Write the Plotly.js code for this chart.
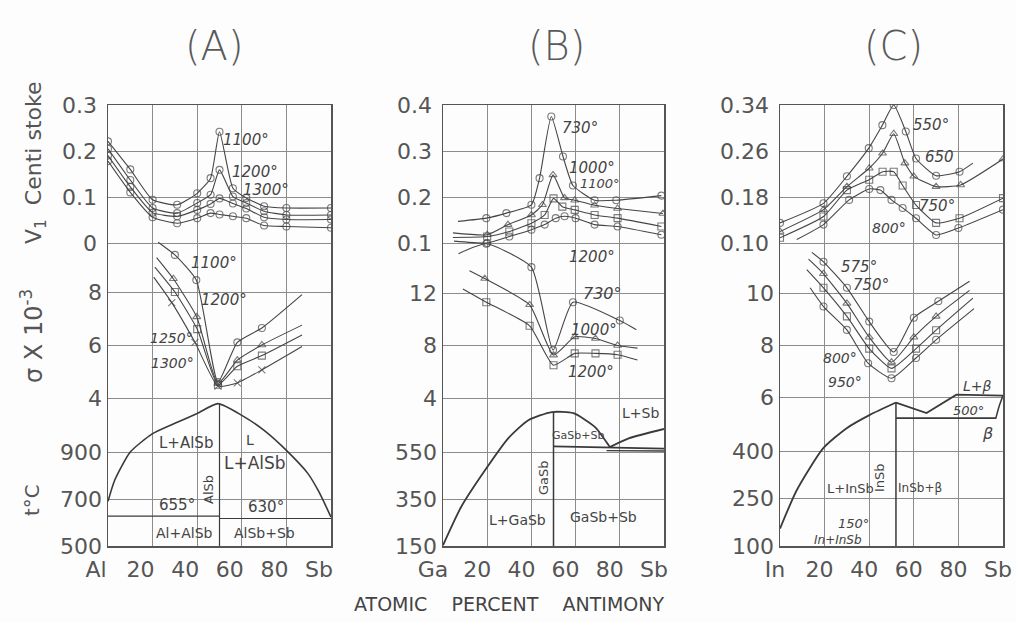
<!DOCTYPE html>
<html><head><meta charset="utf-8">
<script src="https://cdn.plot.ly/plotly-3.0.1.min.js"></script>
<style>html,body{margin:0;padding:0;background:#fdfdfd}#chart{width:1016px;height:622px}</style>
</head><body><div id="chart"></div>
<script>
// ================= DATA =================
const compTicks = [0, 20, 40, 60, 80, 100];
const A_xLabels = ['Al', '20', '40', '60', '80', 'Sb'];
const B_xLabels = ['Ga', '20', '40', '60', '80', 'Sb'];
const C_xLabels = ['In', '20', '40', '60', '80', 'Sb'];

// y tick values / labels
const A_viscTicks = [0.3, 0.2, 0.1, 0];      const A_viscLabels = ['0.3', '0.2', '0.1', '0'];
const A_sigTicks  = [8, 6, 4];               const A_sigLabels  = ['8', '6', '4'];
const A_tempTicks = [900, 700, 500];         const A_tempLabels = ['900', '700', '500'];
const B_viscTicks = [0.4, 0.3, 0.2, 0.1];    const B_viscLabels = ['0.4', '0.3', '0.2', '0.1'];
const B_sigTicks  = [12, 8, 4];              const B_sigLabels  = ['12', '8', '4'];
const B_tempTicks = [550, 350, 150];         const B_tempLabels = ['550', '350', '150'];
const C_viscTicks = [0.34, 0.26, 0.18, 0.10];const C_viscLabels = ['0.34', '0.26', '0.18', '0.10'];
const C_sigTicks  = [10, 8, 6];              const C_sigLabels  = ['10', '8', '6'];
const C_tempTicks = [400, 250, 100];         const C_tempLabels = ['400', '250', '100'];

// ---- (A) Al-Sb : kinematic viscosity (centistoke) ----
const A_visc_x    = [0, 10, 20, 31, 40, 46, 50, 56, 62, 70, 80, 100];
const A_visc_1100 = [0.221, 0.160, 0.094, 0.083, 0.108, 0.141, 0.242, 0.119, 0.098, 0.080, 0.076, 0.076];
const A_visc_1200 = [0.205, 0.137, 0.076, 0.065, 0.087, 0.105, 0.159, 0.101, 0.087, 0.069, 0.061, 0.061];
const A_visc_1300 = [0.190, 0.122, 0.066, 0.058, 0.072, 0.085, 0.097, 0.086, 0.075, 0.056, 0.051, 0.051];
const A_visc_low  = [0.178, 0.110, 0.056, 0.043, 0.054, 0.065, 0.062, 0.058, 0.054, 0.038, 0.036, 0.033];

// ---- (A) sigma x 10^-3 ----
const A_sig_1100_x = [22.5, 30, 39.6, 49.3, 58, 69, 87];  const A_sig_1100 = [9.88, 9.4, 8.45, 4.6, 6.1, 6.64, 7.9];
const A_sig_1200_x = [21.8, 29.3, 39.8, 49.3, 58, 69, 87];const A_sig_1200 = [9.3, 8.5, 7.06, 4.55, 5.43, 6.0, 6.75];
const A_sig_1250_x = [21, 30, 40, 49.3, 58, 69, 87];      const A_sig_1250 = [8.94, 8.0, 6.6, 4.5, 5.2, 5.6, 6.38];
const A_sig_1300_x = [20.5, 28.6, 39, 49.3, 58, 69, 87];  const A_sig_1300 = [8.56, 7.6, 6.1, 4.45, 4.57, 5.06, 5.94];

// ---- (A) phase diagram (t °C) ----
const A_liq_x = [0, 3, 10, 20, 30, 40, 49.3, 60, 70, 80, 89.6, 94.6, 100];
const A_liq_T = [690, 780, 900, 978, 1022, 1064, 1106, 1056, 992, 907, 809, 730, 623];
const A_cmp_x = [50, 50];       const A_cmp_T = [1106, 500];
const A_eutL_x = [0, 50];       const A_eutL_T = [627, 627];
const A_eutR_x = [50, 100];     const A_eutR_T = [617, 617];

// ---- (B) Ga-Sb : viscosity ----
const B_visc_730_x  = [6.8, 19.6, 28.7, 40, 43.7, 49, 54.3, 58.8, 68.6, 78.4, 98.8];
const B_visc_730    = [0.147, 0.154, 0.165, 0.183, 0.241, 0.375, 0.288, 0.225, 0.193, 0.193, 0.203];
const B_visc_1000_x = [4.5, 20, 29.4, 40, 45, 49.8, 55, 59.6, 68.6, 79, 99.5];
const B_visc_1000   = [0.122, 0.118, 0.140, 0.161, 0.183, 0.248, 0.198, 0.193, 0.182, 0.175, 0.164];
const B_visc_1100_x = [4.5, 20, 30, 40, 46, 50, 54, 59.6, 68.6, 79, 98.8];
const B_visc_1100   = [0.112, 0.114, 0.125, 0.143, 0.161, 0.197, 0.179, 0.172, 0.161, 0.154, 0.136];
const B_visc_1200_x = [5, 20, 30, 40, 46, 51, 55, 60, 68.6, 79, 98.8];
const B_visc_1200   = [0.104, 0.100, 0.114, 0.129, 0.140, 0.154, 0.158, 0.154, 0.140, 0.136, 0.118];

// ---- (B) sigma ----
const B_sig_730_x  = [7, 19.6, 40, 49.8, 58.8, 80, 87.5]; const B_sig_730  = [15.0, 15.75, 13.97, 7.65, 11.3, 9.9, 9.2];
const B_sig_1000_x = [12, 18.9, 39.2, 50, 59.6, 69, 79, 88]; const B_sig_1000 = [13.7, 13.1, 11.1, 7.27, 8.66, 8.53, 8.0, 7.8];
const B_sig_1200_x = [9, 19.6, 39.2, 50, 59.6, 69, 79, 88];  const B_sig_1200 = [12.3, 11.3, 9.5, 6.5, 7.4, 7.4, 7.3, 6.9];

// ---- (B) phase diagram ----
const B_liq_x  = [0, 8.2, 19, 29.5, 38.6, 49.2, 59, 68.8, 75.5];
const B_liq_T  = [153, 316, 472, 608, 685, 720, 715, 656, 571];
const B_liq2_x = [75.5, 84, 100];        const B_liq2_T = [571, 608, 648];
const B_cmp_x  = [50, 50];               const B_cmp_T  = [720, 150];
const B_eut_x  = [50, 100];              const B_eut_T  = [574, 564];
const B_eut2_x = [74, 100];              const B_eut2_T = [556, 554];

// ---- (C) In-Sb : viscosity ----
const C_visc_550_x = [0, 19.5, 30, 39.8, 45.9, 51, 56.4, 61, 70, 80.5, 86.5];
const C_visc_550   = [0.135, 0.169, 0.216, 0.265, 0.305, 0.340, 0.294, 0.247, 0.217, 0.224, 0.239];
const C_visc_650_x = [0, 19.5, 30, 40, 46, 51, 56, 60, 70, 81, 100];
const C_visc_650   = [0.120, 0.158, 0.198, 0.230, 0.256, 0.290, 0.239, 0.216, 0.198, 0.201, 0.246];
const C_visc_750_x = [0, 19.5, 30, 40, 46, 51, 55, 61, 70, 80.5, 100];
const C_visc_750   = [0.109, 0.146, 0.192, 0.210, 0.224, 0.224, 0.200, 0.166, 0.135, 0.143, 0.178];
const C_visc_800_x = [7.5, 19.5, 31, 40, 45, 50, 55, 61, 70, 80, 100];
const C_visc_800   = [0.106, 0.132, 0.175, 0.194, 0.192, 0.175, 0.161, 0.143, 0.114, 0.126, 0.158];

// ---- (C) sigma ----
const C_sig_575_x = [14.3, 19.5, 30, 40, 51, 60, 71, 85];   const C_sig_575 = [11.56, 11.2, 10.2, 8.9, 7.73, 9.05, 9.68, 10.45];
const C_sig_750_x = [12.8, 19.5, 30, 40, 50, 60, 70, 85];   const C_sig_750 = [11.3, 10.74, 9.6, 8.3, 7.34, 8.3, 9.1, 10.1];
const C_sig_800_x = [12, 19.5, 30, 40, 50, 61, 70, 86.5];   const C_sig_800 = [10.9, 10.2, 9.1, 7.86, 7.1, 7.86, 8.57, 9.8];
const C_sig_950_x = [13.5, 19.5, 30, 39.5, 50, 61, 70, 87]; const C_sig_950 = [10.2, 9.48, 8.58, 7.3, 6.72, 7.5, 8.2, 9.4];

// ---- (C) phase diagram ----
const C_liq_x  = [0, 7.5, 19.4, 29.9, 40.3, 52];     const C_liq_T  = [155, 276, 409, 472, 514, 553];
const C_liq2_x = [52, 65.7, 79.1, 100];              const C_liq2_T = [553, 520, 578, 575];
const C_cmp_x  = [52, 52];                           const C_cmp_T  = [553, 100];
const C_eut_x  = [52, 97];                           const C_eut_T  = [504, 504];
const C_beta_x = [100, 98.2, 96.8];                  const C_beta_T = [575, 540, 504];

// ================= BUILD =================
const W = 1016, H = 622, TOP = 105, BOT = 546;
const INK = '#454545', GRID = '#8c8c8c', TXT = '#555';
const FONT = 'DejaVu Sans, Liberation Sans, sans-serif';

function rangeFrom(v1, p1, v2, p2) {            // two (value, pixel-row) references
  const s = (v1 - v2) / (p2 - p1);
  return [v1 - s * (BOT - p1), v1 + s * (p1 - TOP)];
}
function sizesFor(n, noStart, noEnd) {
  return Array.from({length: n}, (_, i) => (noStart && i === 0) || (noEnd && i === n - 1) ? 0 : 7);
}
const traces = [];
function curve(x, y, xa, ya, symbol, noStart, noEnd, shape) {
  traces.push({
    x: x, y: y, xaxis: xa, yaxis: ya, type: 'scatter', mode: 'lines+markers',
    line: {color: INK, width: 1.1, shape: shape || 'spline', smoothing: 0.5},
    marker: {symbol: symbol, size: sizesFor(x.length, noStart, noEnd), color: INK, line: {width: 1.1, color: INK}},
    hoverinfo: 'skip', showlegend: false
  });
}
function phase(x, y, xa, ya, width, shape) {
  traces.push({x: x, y: y, xaxis: xa, yaxis: ya, type: 'scatter', mode: 'lines',
    line: {color: '#3a3a3a', width: width || 1.8, shape: shape || 'spline', smoothing: 0.6},
    hoverinfo: 'skip', showlegend: false});
}

// A
curve(A_visc_x, A_visc_1100, 'x', 'y', 'circle-open');
curve(A_visc_x, A_visc_1200, 'x', 'y', 'circle-open');
curve(A_visc_x, A_visc_1300, 'x', 'y', 'circle-open');
curve(A_visc_x, A_visc_low,  'x', 'y', 'circle-open');
curve(A_sig_1100_x, A_sig_1100, 'x', 'y2', 'circle-open', true, true);
curve(A_sig_1200_x, A_sig_1200, 'x', 'y2', 'triangle-up-open', true, true);
curve(A_sig_1250_x, A_sig_1250, 'x', 'y2', 'square-open', true, true);
curve(A_sig_1300_x, A_sig_1300, 'x', 'y2', 'x-thin-open', true, true);
phase(A_liq_x, A_liq_T, 'x', 'y3', 1.6);
phase(A_cmp_x, A_cmp_T, 'x', 'y3', 1.2, 'linear');
phase(A_eutL_x, A_eutL_T, 'x', 'y3', 1.2, 'linear');
phase(A_eutR_x, A_eutR_T, 'x', 'y3', 1.2, 'linear');
// B
curve(B_visc_730_x,  B_visc_730,  'x2', 'y4', 'circle-open', true);
curve(B_visc_1000_x, B_visc_1000, 'x2', 'y4', 'triangle-up-open', true);
curve(B_visc_1100_x, B_visc_1100, 'x2', 'y4', 'square-open', true);
curve(B_visc_1200_x, B_visc_1200, 'x2', 'y4', 'circle-open', true);
curve(B_sig_730_x,  B_sig_730,  'x2', 'y5', 'circle-open', true, true);
curve(B_sig_1000_x, B_sig_1000, 'x2', 'y5', 'triangle-up-open', true, true);
curve(B_sig_1200_x, B_sig_1200, 'x2', 'y5', 'square-open', true, true);
phase(B_liq_x, B_liq_T, 'x2', 'y6', 1.8);
phase(B_liq2_x, B_liq2_T, 'x2', 'y6', 1.8);
phase(B_cmp_x, B_cmp_T, 'x2', 'y6', 1.5, 'linear');
phase(B_eut_x, B_eut_T, 'x2', 'y6', 1.8, 'linear');
phase(B_eut2_x, B_eut2_T, 'x2', 'y6', 1.4, 'linear');
// C
curve(C_visc_550_x, C_visc_550, 'x3', 'y7', 'circle-open', false, true);
curve(C_visc_650_x, C_visc_650, 'x3', 'y7', 'triangle-up-open');
curve(C_visc_750_x, C_visc_750, 'x3', 'y7', 'square-open');
curve(C_visc_800_x, C_visc_800, 'x3', 'y7', 'circle-open', true);
curve(C_sig_575_x, C_sig_575, 'x3', 'y8', 'circle-open', true, true);
curve(C_sig_750_x, C_sig_750, 'x3', 'y8', 'triangle-up-open', true, true);
curve(C_sig_800_x, C_sig_800, 'x3', 'y8', 'square-open', true, true);
curve(C_sig_950_x, C_sig_950, 'x3', 'y8', 'circle-open', true, true);
phase(C_liq_x, C_liq_T, 'x3', 'y9', 1.8);
phase(C_liq2_x, C_liq2_T, 'x3', 'y9', 1.8, 'linear');
phase(C_cmp_x, C_cmp_T, 'x3', 'y9', 1.5, 'linear');
phase(C_eut_x, C_eut_T, 'x3', 'y9', 1.8, 'linear');
phase(C_beta_x, C_beta_T, 'x3', 'y9', 1.5);

// ---------- axes ----------
const yDom = [1 - BOT / H, 1 - TOP / H];
const tickFont = {family: FONT, size: 22, color: TXT};
function xAxis(px0, px1, labels, shift) {
  return {domain: [px0 / W, px1 / W], range: [0, 100], tickvals: compTicks, ticktext: labels,
    showgrid: true, gridcolor: GRID, gridwidth: 1, zeroline: false, ticks: '',
    showline: true, mirror: true, linecolor: '#555', linewidth: 1.5,
    tickfont: tickFont, ticklabelshift: shift, ticklabelstandoff: 3, fixedrange: true};
}
function yAxis(anchor, range, vals, labels, over) {
  const a = {anchor: anchor, range: range, tickvals: vals, ticktext: labels, showgrid: true,
    gridcolor: GRID, gridwidth: 1, zeroline: false, ticks: '', tickfont: tickFont,
    ticklabelstandoff: 5, fixedrange: true};
  if (over) { a.overlaying = over; a.showline = false; }
  else { a.domain = yDom; a.showline = true; a.mirror = true; a.linecolor = '#555'; a.linewidth = 1.5; }
  return a;
}

const layout = {
  width: W, height: H, margin: {l: 0, r: 0, t: 0, b: 0},
  paper_bgcolor: '#fdfdfd', plot_bgcolor: 'rgba(0,0,0,0)', showlegend: false,
  xaxis:  xAxis(108, 331, A_xLabels, -12),
  xaxis2: xAxis(443, 664, B_xLabels, -10),
  xaxis3: xAxis(780, 1003, C_xLabels, -5),
  yaxis:  yAxis('x',  rangeFrom(0.3, 105, 0, 243), A_viscTicks, A_viscLabels),
  yaxis2: yAxis('x',  rangeFrom(8, 292, 4, 398),   A_sigTicks,  A_sigLabels, 'y'),
  yaxis3: yAxis('x',  rangeFrom(900, 452, 500, 546), A_tempTicks, A_tempLabels, 'y'),
  yaxis4: yAxis('x2', rangeFrom(0.4, 105, 0.1, 243), B_viscTicks, B_viscLabels),
  yaxis5: yAxis('x2', rangeFrom(12, 293, 4, 398),  B_sigTicks,  B_sigLabels, 'y4'),
  yaxis6: yAxis('x2', rangeFrom(550, 452, 150, 546), B_tempTicks, B_tempLabels, 'y4'),
  yaxis7: yAxis('x3', rangeFrom(0.34, 105, 0.10, 243), C_viscTicks, C_viscLabels),
  yaxis8: yAxis('x3', rangeFrom(10, 293, 6, 397),  C_sigTicks,  C_sigLabels, 'y7'),
  yaxis9: yAxis('x3', rangeFrom(400, 451, 100, 546), C_tempTicks, C_tempLabels, 'y7'),
  annotations: []
};

function note(text, px, py, size, opts) {
  const o = opts || {};
  const f = {family: o.family || FONT, size: size, color: o.color || '#444', style: o.style || 'normal'};
  if (o.weight) f.weight = o.weight;
  layout.annotations.push(Object.assign({text: text, x: px / W, y: 1 - py / H, xref: 'paper', yref: 'paper',
    showarrow: false, xanchor: 'center', yanchor: 'middle', font: f}, o.extra || {}));
}
const TF = {color: '#5a5a5a', weight: 300};
note('(A)', 214, 46, 40, TF);
note('(B)', 556, 46, 40, TF);
note('(C)', 893, 46, 40, TF);
note('V<sub>1</sub>  Centi stoke', 36, 163, 22, {color: TXT, extra: {textangle: -90}});
note('σ X 10<sup>-3</sup>', 32, 336, 24, {color: TXT, extra: {textangle: -90}});
note('t°C', 32, 500, 20, {color: TXT, extra: {textangle: -90}});
note('ATOMIC\u00a0\u00a0\u00a0\u00a0PERCENT\u00a0\u00a0\u00a0\u00a0ANTIMONY', 509, 604, 19, {color: '#444'});

const IT = {style: 'italic'};
// A labels
note('1100°', 246, 140, 15, IT); note('1200°', 255, 172, 15, IT); note('1300°', 266, 190, 15, IT);
note('1100°', 214, 263, 15, IT); note('1200°', 224, 300, 15, IT);
note('1250°', 171, 338, 14, IT); note('1300°', 172, 363, 14, IT);
note('L+AlSb', 186, 443, 15); note('L', 250, 440, 14); note('L+AlSb', 255, 463, 17);
note('AlSb', 208, 490, 13, {extra: {textangle: -90}});
note('655°', 177, 505, 15); note('630°', 266, 507, 15);
note('Al+AlSb', 184, 533, 14); note('AlSb+Sb', 264, 533, 14);
// B labels
note('730°', 580, 128, 15, IT); note('1000°', 592, 168, 15, IT); note('1100°', 600, 183, 13, IT);
note('1200°', 592, 257, 15, IT);
note('730°', 602, 293, 16, IT); note('1000°', 594, 330, 15, IT); note('1200°', 591, 372, 15, IT);
note('L+Sb', 640, 413, 14); note('GaSb+Sb', 578, 435, 11);
note('GaSb', 543, 478, 13, {extra: {textangle: -90}});
note('L+GaSb', 517, 520, 14); note('GaSb+Sb', 603, 517, 14);
// C labels
note('550°', 931, 125, 15, IT); note('650', 939, 157, 15, IT); note('750°', 937, 206, 15, IT); note('800°', 889, 228, 14, IT);
note('575°', 859, 267, 15, IT); note('750°', 871, 285, 15, IT); note('800°', 840, 358, 14, IT); note('950°', 845, 382, 14, IT);
note('L+β', 977, 386, 14, IT); note('500°', 968, 410, 13, IT); note('β', 987, 433, 16, IT);
note('L+InSb', 850, 488, 13); note('InSb', 879, 478, 13, {extra: {textangle: -90}}); note('InSb+β', 920, 488, 12);
note('150°', 853, 523, 13, IT); note('In+InSb', 838, 540, 12, IT);

Plotly.newPlot('chart', traces, layout, {staticPlot: true});
</script>
</body></html>
